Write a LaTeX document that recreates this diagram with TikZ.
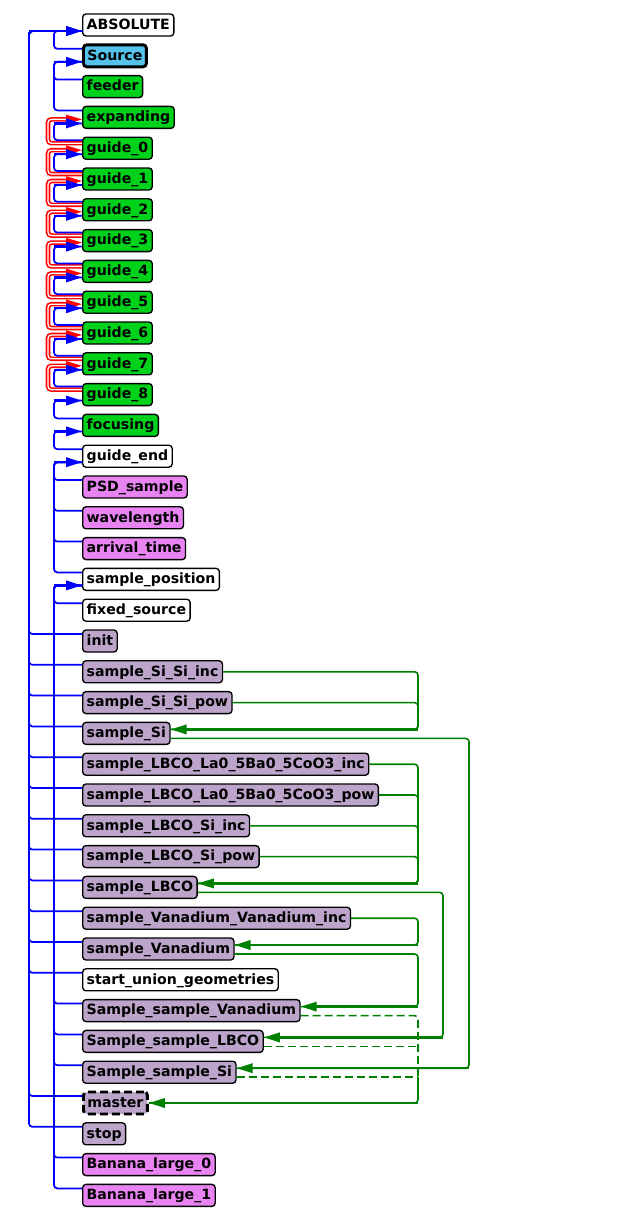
\documentclass[tikz,border=0pt]{standalone}
\usepackage{fontspec}
\setmainfont{DejaVu Sans}
\usepackage{tikz}
\usetikzlibrary{arrows.meta}
\tikzset{>={Triangle[length=12pt,width=7pt]}}
\definecolor{comp green}{HTML}{00D11A}
\definecolor{comp purple}{HTML}{BCA4CA}
\definecolor{comp violet}{HTML}{E883F2}
\definecolor{comp sky}{HTML}{55C3E9}
\definecolor{union green}{RGB}{0,128,0}
\tikzset{
    comp/.style={draw, rounded corners=2.5pt, line width=1pt, anchor=west,
        font=\bfseries\fontsize{10.6}{12}\selectfont, inner xsep=3pt, inner ysep=2pt,
        text height=9.5pt, text depth=3pt},
    plain comp/.style={comp, fill=white},
    source comp/.style={comp, fill=comp sky, line width=2.2pt},
    guide comp/.style={comp, fill=comp green},
    monitor comp/.style={comp, fill=comp violet},
    union comp/.style={comp, fill=comp purple},
    master comp/.style={comp, fill=comp purple, line width=2.2pt, dash pattern=on 6pt off 3pt},
    posref/.style={draw=blue, line width=1.3pt, rounded corners=2.5pt},
    rotref/.style={draw=red, double=white, line width=1.2pt, double distance=1pt, rounded corners=2.5pt},
    unionref/.style={draw=union green, line width=1.2pt, rounded corners=2.5pt},
    arrowpart/.style={line width=1.9pt, ->},
}
\begin{document}
\begin{tikzpicture}[x=0.75pt, y=-0.75pt]
    \useasboundingbox (0,0) rectangle (639,1221);
    % components, one row each
    \foreach \nm/\txt/\sty [count=\i from 0] in {
        absolute/ABSOLUTE/plain comp,
        source/Source/source comp,
        feeder/feeder/guide comp,
        expanding/expanding/guide comp,
        guide0/guide\_0/guide comp,
        guide1/guide\_1/guide comp,
        guide2/guide\_2/guide comp,
        guide3/guide\_3/guide comp,
        guide4/guide\_4/guide comp,
        guide5/guide\_5/guide comp,
        guide6/guide\_6/guide comp,
        guide7/guide\_7/guide comp,
        guide8/guide\_8/guide comp,
        focusing/focusing/guide comp,
        guideend/guide\_end/plain comp,
        psdsample/PSD\_sample/monitor comp,
        wavelength/wavelength/monitor comp,
        arrivaltime/arrival\_time/monitor comp,
        sampleposition/sample\_position/plain comp,
        fixedsource/fixed\_source/plain comp,
        init/init/union comp,
        siinc/sample\_Si\_Si\_inc/union comp,
        sipow/sample\_Si\_Si\_pow/union comp,
        samplesi/sample\_Si/union comp,
        lbcolainc/sample\_LBCO\_La0\_5Ba0\_5CoO3\_inc/union comp,
        lbcolapow/sample\_LBCO\_La0\_5Ba0\_5CoO3\_pow/union comp,
        lbcosiinc/sample\_LBCO\_Si\_inc/union comp,
        lbcosipow/sample\_LBCO\_Si\_pow/union comp,
        samplelbco/sample\_LBCO/union comp,
        vaninc/sample\_Vanadium\_Vanadium\_inc/union comp,
        samplevan/sample\_Vanadium/union comp,
        startunion/start\_union\_geometries/plain comp,
        ssvan/Sample\_sample\_Vanadium/union comp,
        sslbco/Sample\_sample\_LBCO/union comp,
        sssi/Sample\_sample\_Si/union comp,
        master/master/master comp,
        stop/stop/union comp,
        banana0/Banana\_large\_0/monitor comp,
        banana1/Banana\_large\_1/monitor comp} {
        \node[\sty] (\nm) at (82, 25+30.8*\i) {\txt};
    }
    % bus lines
    \coordinate (outerbus) at (29,0);
    \coordinate (innerbus) at (54,0);
    \coordinate (rotbus) at (48,0);
    \coordinate (unionbus) at (418,0);
    \coordinate (lbcobus) at (443,0);
    \coordinate (sibus) at (469,0);
    % rotation chain along the guides
    \foreach \ch/\pa in {guide0/expanding, guide1/guide0, guide2/guide1, guide3/guide2,
            guide4/guide3, guide5/guide4, guide6/guide5, guide7/guide6, guide8/guide7} {
        \coordinate (t) at ([yshift=-1.5pt]\pa.west);
        \draw[rotref, shorten >=10pt] ([yshift=3.75pt]\ch.west) coordinate (s) -- (s -| rotbus) |- (t);
        \draw[red, line width=0.7pt, ->] ([xshift=-12pt]t) -- (t);
        \coordinate (t) at ([yshift=-4.5pt]\pa.west);
        \draw[posref] ([yshift=6pt]\ch.west) coordinate (s) -- (s -| innerbus) |- (t);
        \draw[posref, arrowpart] (t -| innerbus) -- (t);
    }
    % position references
    \foreach \pa/\bs/\kids in {
        absolute/outerbus/{init, siinc, sipow, samplesi, lbcolainc, lbcolapow, lbcosiinc,
            lbcosipow, samplelbco, vaninc, samplevan, startunion, master, stop},
        absolute/innerbus/{source},
        source/innerbus/{feeder, expanding},
        guide8/innerbus/{focusing},
        focusing/innerbus/{guideend},
        guideend/innerbus/{psdsample, wavelength, arrivaltime, sampleposition},
        sampleposition/innerbus/{fixedsource, ssvan, sslbco, sssi, banana0, banana1}} {
        \coordinate (t) at ([yshift=-4.5pt]\pa.west);
        \foreach \ch in \kids
            \draw[posref] ([yshift=5.25pt]\ch.west) coordinate (s) -- (s -| \bs) |- (t);
        \draw[posref, arrowpart] (t -| \bs) -- (t);
    }
    % union geometries
    \foreach \pa/\bs/\dy/\kids in {
        samplesi/unionbus/0pt/{siinc, sipow},
        samplelbco/unionbus/0pt/{lbcolainc, lbcolapow, lbcosiinc, lbcosipow},
        samplevan/unionbus/0pt/{vaninc},
        ssvan/unionbus/-3.75pt/{samplevan},
        sslbco/lbcobus/-3.75pt/{samplelbco},
        sssi/sibus/-3.75pt/{samplesi}} {
        \coordinate (t) at ([yshift=3pt]\pa.east);
        \foreach \ch in \kids
            \draw[unionref] ([yshift=\dy]\ch.east) coordinate (s) -- (s -| \bs) |- (t);
        \draw[unionref, arrowpart] (t -| \bs) -- (t);
    }
    % union master
    \coordinate (unionjoin) at ([yshift=-3.75pt]sssi.east -| unionbus);
    \draw[unionref, dash pattern=on 6pt off 3pt] ([yshift=-3.75pt]ssvan.east) coordinate (s) -- (s -| unionbus) -- (unionjoin);
    \draw[unionref, dash pattern=on 6pt off 3pt] ([yshift=-3.75pt]sslbco.east) coordinate (s) -- (s -| unionbus);
    \draw[unionref, dash pattern=on 6pt off 3pt] ([yshift=-3.75pt]sssi.east) -- (unionjoin);
    \draw[unionref] (unionjoin) |- (master.east);
    \draw[unionref, arrowpart] (master.east -| unionbus) -- (master.east);
\end{tikzpicture}
\end{document}
